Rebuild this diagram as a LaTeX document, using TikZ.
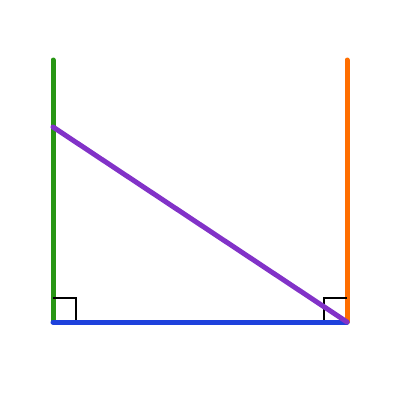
\documentclass[tikz,border=0pt]{standalone}
\usepackage{tikz}
\usetikzlibrary{calc}

\definecolor{sidegreen}{RGB}{40,150,20}
\definecolor{sideorange}{RGB}{255,110,0}
\definecolor{sideblue}{RGB}{30,65,220}
\definecolor{sidepurple}{RGB}{130,50,200}

\tikzset{
  side/.style={line width=5pt, line cap=round},
  rightmark/.style={line width=1.6pt, black}
}

\begin{document}
\begin{tikzpicture}[x=1pt,y=-1pt]
    \useasboundingbox (0,0) rectangle (400,400);
    \coordinate (bl) at (53,322);
    \coordinate (br) at (347,322);
    \coordinate (tl) at (53,60);
    \coordinate (tr) at (347,60);
    \coordinate (p) at (53,127);
    \draw [side, sidegreen] (bl) -- (tl);
    \draw [side, sideorange] (br) -- (tr);
    \draw [rightmark] ($(bl)+(0,-24)$) -- ++(23,0) -- ++(0,24);
    \draw [rightmark] ($(br)+(0,-24)$) -- ++(-23,0) -- ++(0,24);
    \draw [side, sideblue] (bl) -- (br);
    \draw [side, sidepurple] (p) -- (br);
  \end{tikzpicture}
\end{document}
